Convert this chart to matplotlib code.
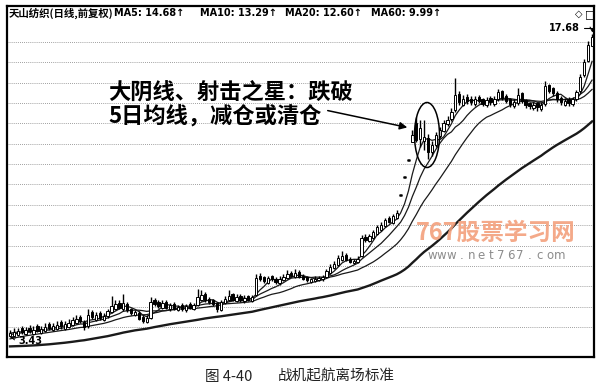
import numpy as np
import pandas as pd
import matplotlib.pyplot as plt
from matplotlib.patches import Ellipse

plt.rcParams['font.family'] = ['Noto Sans CJK SC', 'DejaVu Sans']

# closes before the visible window (only used to warm up the moving averages)
pre_close = [3.42, 3.40, 3.38, 3.41, 3.36, 3.33, 3.35, 3.30, 3.28, 3.31,
             3.27, 3.24, 3.26, 3.22, 3.20, 3.23, 3.18, 3.15, 3.17, 3.14,
             3.12, 3.15, 3.10, 3.08, 3.11, 3.06, 3.09, 3.05, 3.08, 3.04,
             3.07, 3.10, 3.06, 3.12, 3.15, 3.11, 3.17, 3.20, 3.16, 3.22,
             3.25, 3.21, 3.27, 3.30, 3.26, 3.32, 3.35, 3.31, 3.37, 3.40,
             3.36, 3.42, 3.45, 3.41, 3.47, 3.50, 3.46, 3.52, 3.49, 3.53]

opens = [3.44, 3.45, 3.47, 3.60, 3.48, 3.61, 3.49, 3.63, 3.50, 3.54,
         3.68, 3.56, 3.58, 3.71, 3.59, 3.62, 3.66, 3.70, 3.82, 3.72,
         3.64, 3.92, 3.76, 3.90, 3.76, 3.84, 3.92, 3.98, 4.12, 3.98,
         4.10, 3.98, 3.86, 3.90, 3.82, 3.72, 3.80, 4.18, 4.14, 4.02,
         4.14, 3.98, 4.10, 3.96, 4.08, 3.96, 4.10, 4.00, 4.08, 4.20,
         4.32, 4.22, 4.18, 4.12, 3.96, 4.12, 4.18, 4.32, 4.16, 4.28,
         4.16, 4.28, 4.16, 4.30, 4.78, 4.74, 4.60, 4.76, 4.70, 4.58,
         4.66, 4.72, 4.86, 4.74, 4.88, 4.78, 4.74, 4.62, 4.64, 4.66,
         4.68, 4.74, 4.86, 4.98, 5.06, 5.20, 5.34, 5.24, 5.12, 5.14,
         5.30, 5.90, 5.76, 5.86, 5.98, 6.12, 6.24, 6.52, 6.36, 6.52,
         7.39, 8.13, 8.94, 9.83, 10.90, 9.98, 9.90, 10.05, 9.32, 9.68,
         10.15, 10.45, 10.85, 11.15, 11.70, 12.75, 12.05, 12.55, 12.45, 12.10,
         12.55, 12.40, 12.00, 12.50, 12.10, 12.45, 12.95, 12.60, 12.40, 11.95,
         12.15, 12.80, 12.35, 12.15, 11.80, 12.15, 11.75, 12.10, 13.40, 13.15,
         12.85, 12.50, 12.05, 12.45, 12.10, 12.40, 12.95, 14.10, 15.25, 16.55]

highs = [3.56, 3.60, 3.61, 3.64, 3.62, 3.66, 3.63, 3.67, 3.64, 3.69,
         3.72, 3.70, 3.73, 3.76, 3.73, 3.78, 3.82, 3.86, 3.87, 3.76,
         3.98, 3.96, 3.92, 3.94, 3.90, 4.00, 4.28, 4.18, 4.18, 4.32,
         4.14, 4.02, 3.97, 3.95, 3.86, 3.86, 4.26, 4.24, 4.18, 4.20,
         4.18, 4.13, 4.14, 4.08, 4.12, 4.10, 4.14, 4.12, 4.45, 4.42,
         4.38, 4.26, 4.22, 4.15, 4.20, 4.28, 4.42, 4.36, 4.32, 4.32,
         4.30, 4.31, 4.30, 4.82, 4.84, 4.78, 4.78, 4.80, 4.74, 4.76,
         4.82, 4.92, 4.90, 4.94, 4.92, 4.82, 4.77, 4.73, 4.76, 4.78,
         4.80, 4.96, 5.08, 5.18, 5.34, 5.46, 5.40, 5.28, 5.24, 5.30,
         5.96, 5.98, 6.00, 6.12, 6.28, 6.40, 6.54, 6.58, 6.66, 6.80,
         7.39, 8.13, 8.94, 10.50, 11.25, 11.10, 11.10, 10.30, 9.90, 10.40,
         10.70, 11.10, 11.35, 11.80, 13.90, 13.00, 12.70, 12.75, 12.60, 12.60,
         12.70, 12.50, 12.55, 12.60, 12.60, 13.10, 13.05, 12.75, 12.50, 12.40,
         13.20, 12.90, 12.45, 12.25, 12.25, 12.25, 12.20, 13.70, 13.50, 13.25,
         12.95, 12.60, 12.50, 12.55, 12.55, 13.05, 14.20, 15.40, 17.00, 17.68]

lows = [3.43, 3.44, 3.45, 3.49, 3.46, 3.51, 3.47, 3.52, 3.48, 3.52,
        3.57, 3.54, 3.56, 3.59, 3.57, 3.60, 3.64, 3.68, 3.70, 3.56,
        3.61, 3.78, 3.73, 3.76, 3.73, 3.80, 3.90, 3.96, 3.98, 3.95,
        3.92, 3.86, 3.84, 3.75, 3.70, 3.70, 3.78, 4.05, 4.02, 4.00,
        3.99, 3.95, 3.97, 3.94, 3.95, 3.93, 3.99, 3.97, 4.05, 4.17,
        4.14, 4.10, 4.06, 3.93, 3.94, 4.10, 4.16, 4.17, 4.14, 4.14,
        4.13, 4.16, 4.14, 4.28, 4.64, 4.60, 4.57, 4.64, 4.56, 4.55,
        4.63, 4.69, 4.74, 4.72, 4.72, 4.66, 4.62, 4.59, 4.61, 4.63,
        4.65, 4.72, 4.83, 4.95, 5.03, 5.17, 5.16, 5.11, 5.09, 5.12,
        5.28, 5.72, 5.73, 5.83, 5.95, 6.08, 6.20, 6.34, 6.32, 6.48,
        7.39, 8.13, 8.94, 9.83, 9.85, 9.60, 9.40, 9.00, 9.10, 9.60,
        10.05, 10.40, 10.75, 11.00, 11.60, 12.00, 11.95, 12.10, 12.00, 11.95,
        12.15, 11.95, 11.90, 12.05, 11.95, 12.30, 12.35, 12.15, 11.90, 11.80,
        12.05, 12.15, 11.85, 11.75, 11.70, 11.65, 11.65, 11.95, 12.80, 12.60,
        12.25, 12.00, 11.95, 11.95, 11.95, 12.30, 12.85, 14.00, 15.20, 16.50]

closes = [3.50, 3.53, 3.55, 3.52, 3.56, 3.54, 3.57, 3.55, 3.58, 3.62,
          3.60, 3.64, 3.66, 3.63, 3.67, 3.70, 3.75, 3.78, 3.74, 3.62,
          3.86, 3.82, 3.86, 3.80, 3.84, 3.95, 4.05, 4.10, 4.02, 4.12,
          3.96, 3.90, 3.92, 3.78, 3.74, 3.80, 4.15, 4.10, 4.05, 4.12,
          4.02, 4.08, 4.00, 4.04, 3.98, 4.06, 4.02, 4.08, 4.25, 4.30,
          4.18, 4.14, 4.10, 3.98, 4.15, 4.22, 4.28, 4.20, 4.25, 4.18,
          4.24, 4.20, 4.26, 4.72, 4.70, 4.65, 4.72, 4.68, 4.62, 4.70,
          4.75, 4.82, 4.78, 4.85, 4.75, 4.70, 4.66, 4.68, 4.70, 4.72,
          4.75, 4.90, 5.02, 5.10, 5.25, 5.32, 5.20, 5.15, 5.18, 5.24,
          5.85, 5.80, 5.92, 6.05, 6.20, 6.30, 6.45, 6.40, 6.58, 6.72,
          7.39, 8.13, 8.94, 10.20, 9.95, 10.60, 10.10, 9.30, 9.70, 10.20,
          10.50, 10.90, 11.10, 11.60, 12.70, 12.20, 12.40, 12.30, 12.20, 12.40,
          12.30, 12.10, 12.35, 12.20, 12.40, 12.90, 12.50, 12.30, 12.10, 12.20,
          12.70, 12.30, 12.00, 11.95, 12.05, 11.90, 12.00, 13.30, 13.00, 12.80,
          12.40, 12.20, 12.30, 12.15, 12.40, 12.90, 14.00, 15.20, 16.60, 17.40]

ma_windows = [5, 10, 20, 60]
header_name = '天山纺织(日线,前复权)'
ma_labels = ['MA5: 14.68↑', 'MA10: 13.29↑', 'MA20: 12.60↑', 'MA60: 9.99↑']
note_lines = ['大阴线、射击之星：跌破', '5日均线，减仓或清仓']
caption_num = '图 4-40'
caption_text = '战机起航离场标准'
wm_cn = '767股票学习网'
wm_url = 'www.net767.com'
high_label = '17.68'
low_label = '3.43'

W, H = 602, 389
fig = plt.figure(figsize=(W / 100, H / 100), dpi=100)
ax = fig.add_axes([7 / W, 1 - 357 / H, 587 / W, 351 / H])


def fx(x):
    return x / W


def fy(y):
    return 1 - y / H


o = np.array(opens)
h = np.array(highs)
l = np.array(lows)
c = np.array(closes)
idx = np.arange(len(c))

ax.set_yscale('log')
ax.set_xlim(-0.77, 149.5)
ax.set_ylim(3.078, 20.53)

# dotted price grid
for lev in np.geomspace(3.62, 16.9, 15):
    ax.axhline(lev, color='#808080', lw=0.6, ls=(0, (1, 1.5)), zorder=0)

# moving averages
allc = pd.Series(pre_close + closes)
for w in ma_windows:
    ma = allc.rolling(w).mean().iloc[len(pre_close):].values
    ax.plot(idx, ma, color='#1a1a1a', lw=1.7 if w == 60 else 0.9, zorder=2)

# candles
ax.vlines(idx, l, h, color='black', lw=1.0, zorder=3)
up = c >= o
lo = np.minimum(o, c)
hi = np.maximum(o, c)
ax.bar(idx[up], (hi - lo)[up], bottom=lo[up], width=0.6,
       facecolor='white', edgecolor='black', lw=0.7, zorder=4)
ax.bar(idx[~up], (hi - lo)[~up], bottom=lo[~up], width=0.6,
       facecolor='black', edgecolor='black', lw=0.7, zorder=4)
doji = (hi - lo) < 0.005
ax.hlines(c[doji], idx[doji] - 0.35, idx[doji] + 0.35, color='black', lw=1.8, zorder=4)

ax.set_xticks([])
ax.set_yticks([])
ax.set_yticks([], minor=True)
for s in ax.spines.values():
    s.set_linewidth(1.6)
    s.set_color('black')

# high / low markers
ax.annotate(high_label, xy=(idx[-1], h.max()), xytext=(564, H - 28),
            textcoords='figure pixels', ha='center', va='center',
            fontsize=7, fontweight='bold', family='DejaVu Sans',
            arrowprops=dict(arrowstyle='->', lw=0.8, shrinkA=1, shrinkB=1,
                            connectionstyle='angle,angleA=0,angleB=90,rad=0'))
ax.annotate(low_label, xy=(0, l.min()), xytext=(18, H - 341),
            textcoords='figure pixels', ha='left', va='center',
            fontsize=7, fontweight='bold', family='DejaVu Sans',
            arrowprops=dict(arrowstyle='->', lw=0.7, shrinkA=0, shrinkB=0))

# header
fig.text(fx(9), fy(13), header_name, fontsize=7.5, fontweight='bold', va='center')
for x0, lab in zip([114, 200, 285, 371], ma_labels):
    fig.text(fx(x0), fy(13), lab, fontsize=7, fontweight='bold', va='center',
             family='DejaVu Sans')
fig.text(fx(579), fy(14), '◇', fontsize=7, ha='center', va='center', family='DejaVu Sans')
fig.text(fx(590), fy(14), '□', fontsize=8, ha='center', va='center', family='DejaVu Sans')

# annotation
ax.add_patch(Ellipse(((427 - 7) / 587, (357 - 135) / 351), 25 / 587, 65 / 351,
                     transform=ax.transAxes, fill=False, edgecolor='black', lw=1.1, zorder=5))
ax.annotate('', xy=(410, H - 128), xytext=(325, H - 110),
            xycoords='figure pixels', textcoords='figure pixels',
            arrowprops=dict(arrowstyle='-|>', color='black', lw=1.1, mutation_scale=11))
fig.text(fx(108), fy(92.5), note_lines[0], fontsize=16, fontweight='bold', va='center')
fig.text(fx(108), fy(117), note_lines[1], fontsize=16, fontweight='bold', va='center')

# watermark
fig.text(fx(496), fy(233), wm_cn, fontsize=17, fontweight='bold', color='#f3a07c',
         ha='center', va='center', alpha=0.9)
for k, ch in enumerate(wm_url):
    fig.text(fx(432 + k * 9.8), fy(259), ch, fontsize=8.5, color='#8c8c8c',
             ha='center', va='baseline', family='DejaVu Sans')

# caption
fig.text(fx(205), fy(376.5), caption_num, fontsize=10.5, va='center', color='#222222')
fig.text(fx(278), fy(376.5), caption_text, fontsize=10.5, va='center', color='#222222')

fig.savefig('out.png', dpi=100)
